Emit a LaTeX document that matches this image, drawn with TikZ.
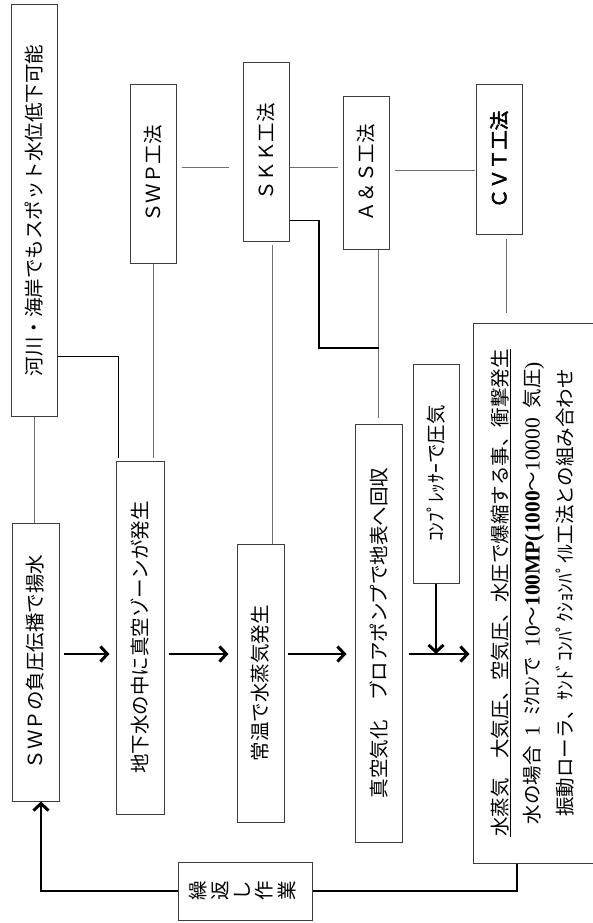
\documentclass[tikz,border=0pt]{standalone}
\usepackage{fontspec,graphicx}
\setmainfont{Noto Sans CJK JP}
\newfontfamily\numfont[Scale=1.1]{Liberation Serif}
\newfontfamily\heavycjk[FakeBold=2.5]{Noto Sans CJK JP}
\usetikzlibrary{arrows.meta}
\definecolor{frame}{RGB}{60,60,60}
\definecolor{link}{RGB}{110,110,110}
\newcommand{\vtext}[1]{\rotatebox{90}{#1}}

\begin{document}
\begin{tikzpicture}[x=1pt,y=-1pt,
  box/.style={draw=frame,line width=1pt,inner sep=0pt,font=\fontsize{19.5}{24}\selectfont},
  tie/.style={draw=link,line width=1pt},
  heavy/.style={draw=black,line width=1.8pt},
  arr/.style={-{Straight Barb[length=7pt,width=15pt,line width=3pt]},line width=2.2pt}
]
\useasboundingbox (0,0) rectangle (592,923);
\node[box,minimum width=46pt,minimum height=411pt] (river) at (34,210.5) {\vtext{河川・海岸でもスポット水位低下可能}};
\node[box,minimum width=46pt,minimum height=178pt] (swpk) at (153,174) {\vtext{ＳＷＰ工法}};
\node[box,minimum width=46pt,minimum height=178pt] (skk) at (266,152) {\vtext{ＳＫＫ工法}};
\node[box,minimum width=46pt,minimum height=152pt] (as) at (366,173) {\vtext{Ａ＆Ｓ工法}};
\node[box,minimum width=46pt,minimum height=149pt] (cvt) at (499,159.5) {\vtext{\heavycjk ＣＶＴ工法}};
\node[box,minimum width=47pt,minimum height=278pt] (swpf) at (35.5,662) {\vtext{ＳＷＰの負圧伝播で揚水}};
\node[box,minimum width=48pt,minimum height=353pt] (chika) at (140,637.5) {\vtext{地下水の中に真空ゾーンが発生}};
\node[box,minimum width=47pt,minimum height=278pt] (jouon) at (260.5,683) {\vtext{常温で水蒸気発生}};
\node[box,minimum width=47pt,minimum height=418pt] (shinku) at (378.5,633) {\vtext{真空気化　ブロアポンプで地表へ回収}};
\node[box,minimum width=46pt,minimum height=219pt] (comp) at (436,473.5) {\vtext{ｺﾝﾌﾟﾚｯｻｰで圧気}};
\node[box,minimum width=120pt,minimum height=540pt] (effect) at (533,593) {\vtext{\fontsize{19.5}{32.5}\selectfont\begin{tabular}{@{}c@{}}
  \underline{水蒸気　大気圧、空気圧、水圧で爆縮する事、衝撃発生}\\
  水の場合\enspace{\numfont 1}\enspace ﾐｸﾛﾝで\enspace{\numfont 10}～{\numfont\bfseries 100MP(1000}～{\numfont 10000}\enspace 気圧{\numfont )}\\
  振動ローラ、ｻﾝﾄﾞｺﾝﾊﾟｸｼｮﾝﾊﾟｲﾙ工法との組み合わせ
\end{tabular}}};
\node[box,minimum width=134pt,minimum height=58pt] (kuri) at (245,891) {\vtext{\fontsize{19.5}{21}\selectfont\begin{tabular}{@{}c@{}}繰\\返\\し\\作\\業\end{tabular}}};
\coordinate (flow) at (0,654);
\coordinate (bend) at (319,348);
\draw[tie] (river.south) -- (river.south |- swpf.north);
\draw[tie,shorten >=3pt] (swpk.south) -- (swpk.south |- chika.north);
\draw[tie,shorten <=5pt,shorten >=14pt] ([yshift=7pt]swpk.east) -- ([yshift=7pt]swpk.east -| skk.west);
\draw[tie,shorten >=5pt] ([yshift=-15pt]skk.east) -- ([yshift=-15pt]skk.east -| as.west);
\draw[tie,shorten <=5pt,shorten >=1pt] ([yshift=3pt]as.east) -- ([yshift=3pt]as.east -| cvt.west);
\draw[tie,shorten <=3pt] ([xshift=6pt]skk.south) -- ([xshift=6pt]skk.south |- jouon.north);
\draw[tie,shorten >=6pt] (as.south -| shinku.north) -- (shinku.north);
\draw[tie,shorten <=4pt,shorten >=10pt] ([xshift=7pt]cvt.south) -- ([xshift=7pt]cvt.south |- effect.north);
\draw[heavy,shorten >=3pt] ([yshift=60pt]river.south east) -| ([xshift=3pt]chika.north west);
\draw[heavy] ([yshift=21pt]skk.south east) -| (bend) -- (bend -| shinku.north);
\draw[arr,shorten <=4pt,shorten >=6pt] (swpf.east |- flow) -- (chika.west |- flow);
\draw[arr,shorten <=4pt,shorten >=8pt] (chika.east |- flow) -- (jouon.west |- flow);
\draw[arr,shorten <=3pt,shorten >=8pt] (jouon.east |- flow) -- (shinku.west |- flow);
\draw[arr,shorten <=6pt,shorten >=3pt] (shinku.east |- flow) -- (effect.west |- flow);
\draw[arr] (comp.south) -- (comp.south |- flow);
\draw[heavy] ([xshift=-16pt]effect.south) |- (kuri.east);
\draw[arr] (kuri.west) -| ([xshift=5.5pt]swpf.south);
\end{tikzpicture}
\end{document}
